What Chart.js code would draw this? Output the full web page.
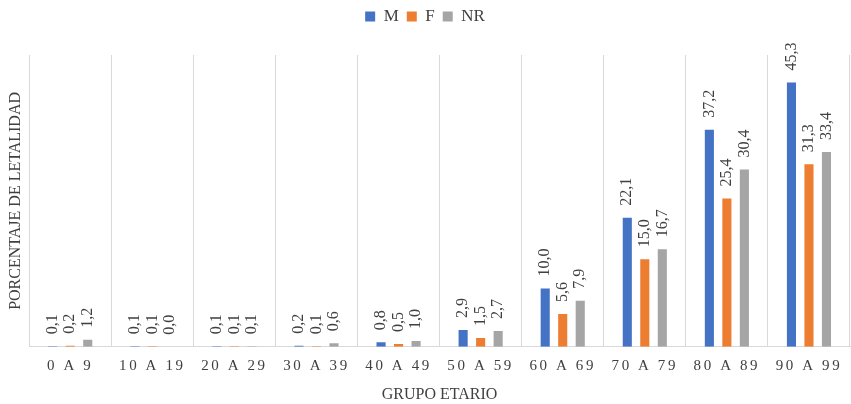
<!DOCTYPE html>
<html>
<head>
<meta charset="utf-8">
<script src="https://cdn.jsdelivr.net/npm/chart.js@4.4.1/dist/chart.umd.min.js"></script>
<style>
  html, body { margin: 0; padding: 0; background: #ffffff; }
  #wrap { width: 851px; height: 404px; position: relative; }
</style>
</head>
<body>
<div id="wrap"><canvas id="c"></canvas></div>
<script>
const categories = ['0 A 9', '10 A 19', '20 A 29', '30 A 39', '40 A 49', '50 A 59', '60 A 69', '70 A 79', '80 A 89', '90 A 99'];
const seriesM  = [0.1, 0.1, 0.1, 0.2, 0.8, 2.9, 10.0, 22.1, 37.2, 45.3];
const seriesF  = [0.2, 0.1, 0.1, 0.1, 0.5, 1.5, 5.6, 15.0, 25.4, 31.3];
const seriesNR = [1.2, 0.0, 0.1, 0.6, 1.0, 2.7, 7.9, 16.7, 30.4, 33.4];
const seriesNames = ['M', 'F', 'NR'];
const xTitle = 'GRUPO ETARIO';
const yTitle = 'PORCENTAJE DE LETALIDAD';

const FONT = "'Liberation Serif', 'DejaVu Serif', serif";
const TEXT = '#404040';
const GRID = '#d9d9d9';

const labelPlugin = {
  id: 'barValueLabels',
  afterDatasetsDraw(chart) {
    const ctx = chart.ctx;
    chart.data.datasets.forEach((ds, i) => {
      const meta = chart.getDatasetMeta(i);
      if (meta.hidden) return;
      meta.data.forEach((el, j) => {
        const v = ds.data[j];
        const txt = v.toFixed(1).replace('.', ',');
        ctx.save();
        ctx.translate(el.x, el.y - 12);
        ctx.rotate(-Math.PI / 2);
        ctx.font = '16px ' + FONT;
        ctx.fillStyle = TEXT;
        ctx.textAlign = 'left';
        ctx.textBaseline = 'middle';
        ctx.fillText(txt, 0, 0);
        ctx.restore();
      });
    });
  }
};

const layoutPlugin = {
  id: 'layoutTweaks',
  beforeLayout(chart) {
    const lg = chart.legend;
    if (lg && !lg._extraWrapped) {
      const f = lg.fit.bind(lg);
      lg.fit = function () { f(); this.height += 20; };
      lg._extraWrapped = true;
    }
  },
  beforeDraw(chart) {
    const s = chart.scales.x;
    if (s && !s._lsWrapped) {
      const orig = s.drawLabels.bind(s);
      s.drawLabels = function (area) {
        const ctx = this.ctx;
        ctx.save();
        ctx.letterSpacing = '2.6px';
        orig(area);
        ctx.restore();
      };
      s._lsWrapped = true;
    }
  }
};

new Chart(document.getElementById('c'), {
  type: 'bar',
  data: {
    labels: categories,
    datasets: [
      { label: seriesNames[0], data: seriesM,  backgroundColor: '#4472c4' },
      { label: seriesNames[1], data: seriesF,  backgroundColor: '#ed7d31' },
      { label: seriesNames[2], data: seriesNR, backgroundColor: '#a5a5a5' }
    ]
  },
  options: {
    responsive: true,
    maintainAspectRatio: false,
    animation: false,
    devicePixelRatio: 1,
    layout: { padding: { top: 0, right: 1, bottom: 0, left: 0 } },
    datasets: { bar: { categoryPercentage: 0.64, barPercentage: 0.52 } },
    plugins: {
      legend: {
        position: 'top',
        labels: {
          boxWidth: 10, boxHeight: 10, padding: 8,
          color: TEXT,
          font: { family: FONT, size: 17 }
        }
      },
      tooltip: { enabled: false }
    },
    scales: {
      x: {
        offset: true,
        grid: { display: true, color: GRID, lineWidth: 1, offset: true, drawTicks: false },
        border: { display: true, color: GRID, width: 1 },
        ticks: { color: TEXT, font: { family: FONT, size: 15 }, padding: 10, maxRotation: 0, autoSkip: false },
        title: { display: true, text: xTitle, color: TEXT, font: { family: FONT, size: 16 }, padding: { top: 0, bottom: 0 } }
      },
      y: {
        min: 0, max: 50,
        grid: { display: false, drawTicks: false },
        border: { display: false },
        ticks: { display: false },
        title: { display: true, text: yTitle, color: TEXT, font: { family: FONT, size: 16 }, padding: { top: 6, bottom: 4 } }
      }
    }
  },
  plugins: [labelPlugin, layoutPlugin]
});
</script>
</body>
</html>
